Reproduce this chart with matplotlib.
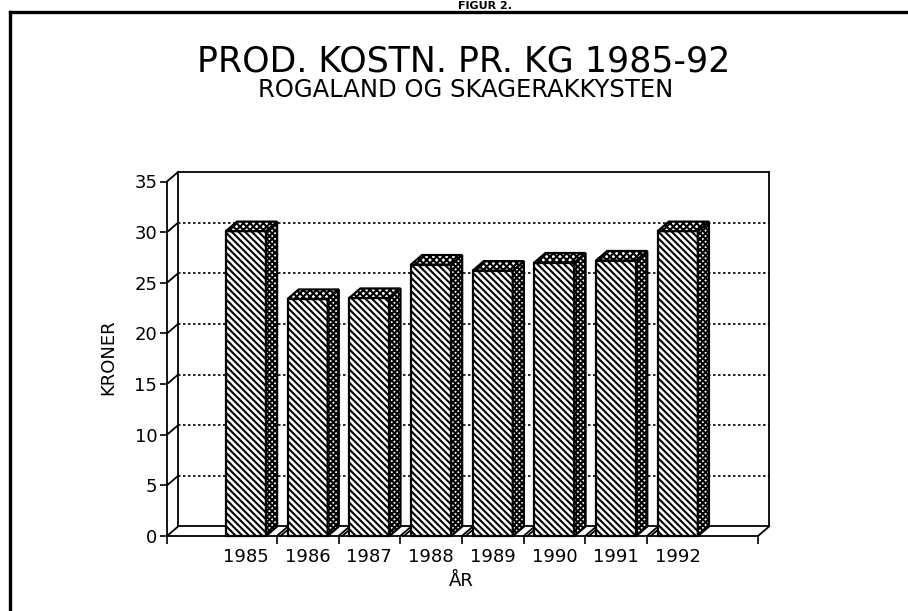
import matplotlib
matplotlib.use("Agg")
import matplotlib.pyplot as plt
from matplotlib.patches import Polygon, Rectangle
from matplotlib.lines import Line2D

years = ["1985", "1986", "1987", "1988", "1989", "1990", "1991", "1992"]
kroner = [30.1, 23.4, 23.5, 26.8, 26.2, 27.0, 27.2, 30.1]
yticks = [0, 5, 10, 15, 20, 25, 30, 35]

plt.rcParams["hatch.linewidth"] = 1.5

W, H = 908, 611
fig = plt.figure(figsize=(W / 100, H / 100), dpi=100)
ax = fig.add_axes([167 / W, 1 - 536 / H, 591 / W, (536 - 181.5) / H])

x0, x1 = -0.28, 9.3
ax.set_xlim(x0, x1)
ax.set_ylim(0, 35)
DX, DY = 0.18, 0.94   # depth of the 3d box, in data units
bw = 0.65

# back wall, side wall and floor outlines
kw = dict(color="black", lw=1.3, clip_on=False, zorder=1)
ax.plot([x0 + DX, x0 + DX], [DY, 35 + DY], **kw)
ax.plot([x1 + DX, x1 + DX], [DY, 35 + DY], **kw)
ax.plot([x0 + DX, x1 + DX], [35 + DY, 35 + DY], **kw)
ax.plot([x0 + DX, x1 + DX], [DY, DY], **kw)
ax.plot([x1, x1 + DX], [0, DY], **kw)
for t in yticks:
    ax.plot([x0, x0 + DX], [t, t + DY], **kw)
for t in yticks[1:-1]:
    ax.plot([x0 + DX, x1 + DX], [t + DY, t + DY], color="black", lw=1.2,
            ls=(0, (1.5, 1.5)), clip_on=False, zorder=1)

bounds = [i + 1.5 for i in range(len(years) - 1)]
for b in bounds:
    ax.plot([b, b + DX], [0, DY], **kw)
    ax.plot([b + 0.06, b + 0.06 + DX], [0, DY], **kw)

# 3d bars
for i, v in enumerate(kroner):
    c = i + 1
    L, R = c - bw / 2, c + bw / 2
    ax.add_patch(Rectangle((L, 0), bw, v, facecolor="white", edgecolor="black",
                           hatch="\\" * 5, lw=1.6, clip_on=False, zorder=3))
    ax.add_patch(Polygon([(R, 0), (R + DX, DY), (R + DX, v + DY), (R, v)],
                         facecolor="white", edgecolor="black", hatch="x" * 6,
                         lw=1.6, clip_on=False, zorder=3))
    ax.add_patch(Polygon([(L, v), (L + DX, v + DY), (R + DX, v + DY), (R, v)],
                         facecolor="white", edgecolor="black", hatch="x" * 5,
                         lw=1.6, clip_on=False, zorder=3))

for s in ["top", "right"]:
    ax.spines[s].set_visible(False)
ax.spines["left"].set_linewidth(1.3)
ax.spines["bottom"].set_linewidth(1.3)
ax.set_yticks(yticks)
ax.set_yticklabels([str(t) for t in yticks])
ax.tick_params(axis="y", direction="out", length=5, width=1.2, pad=2, labelsize=13)
ax.set_xticks([x0] + bounds + [x1])
ax.set_xticklabels([])
ax.tick_params(axis="x", which="major", direction="out", length=6, width=1.2)
ax.set_xticks(range(1, len(years) + 1), minor=True)
ax.set_xticklabels(years, minor=True)
ax.tick_params(axis="x", which="minor", length=0, pad=9, labelsize=13)
ax.patch.set_alpha(0)

fig.text(108 / W, 1 - 357 / H, "KRONER", rotation=90, ha="center", va="center", fontsize=13)
fig.text(461 / W, 1 - 581 / H, "ÅR", ha="center", va="center", fontsize=13)

fig.text(464 / W, 1 - 71 / H, "PROD. KOSTN. PR. KG 1985-92", ha="center",
         va="baseline", fontsize=25)
fig.text(466 / W, 1 - 97 / H, "ROGALAND OG SKAGERAKKYSTEN", ha="center",
         va="baseline", fontsize=17.5)
fig.text(485 / W, 1 - 9 / H, "FIGUR 2.", ha="center", va="baseline",
         fontsize=8, fontweight="bold")

# frame around the figure
fig.add_artist(Line2D([10 / W, 1], [1 - 12 / H, 1 - 12 / H], color="black", lw=2.4))
fig.add_artist(Line2D([10 / W, 10 / W], [0, 1 - 12 / H], color="black", lw=2.4))

fig.savefig("out.png", dpi=100)
